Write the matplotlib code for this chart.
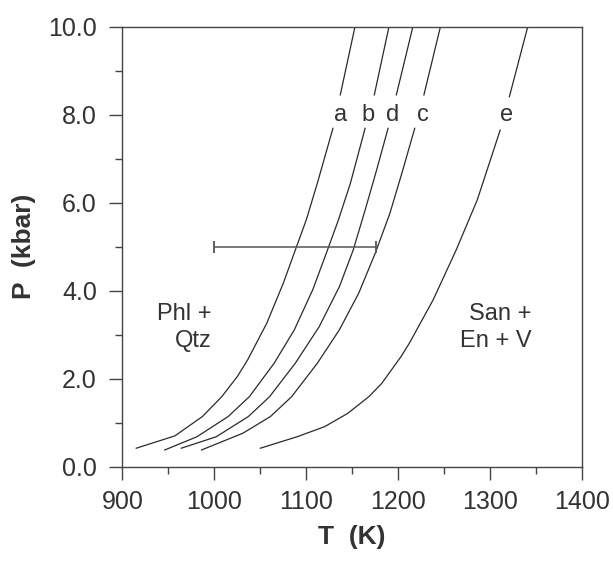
import numpy as np
import matplotlib.pyplot as plt
from matplotlib.ticker import MultipleLocator

plt.rcParams['font.family'] = ['Liberation Sans', 'DejaVu Sans']

# curve data (T in K, P in kbar); nan marks the gap where the label sits
nan = np.nan
a_T = [915, 957, 987, 1008, 1025, 1036, 1057, 1075, 1088, 1100, 1112, 1129, nan, 1137, 1153]
a_P = [0.42, 0.70, 1.14, 1.59, 2.05, 2.42, 3.26, 4.17, 4.92, 5.61, 6.44, 7.69, nan, 8.45, 10.0]

b_T = [946, 981, 1015, 1038, 1065, 1087, 1107, 1123, 1135, 1148, 1164, nan, 1174, 1190]
b_P = [0.38, 0.68, 1.14, 1.59, 2.35, 3.11, 4.02, 4.92, 5.61, 6.44, 7.69, nan, 8.45, 10.0]

d_T = [964, 1002, 1037, 1060, 1088, 1114, 1136, 1151, 1164, 1176.5, 1189, nan, 1198, 1216]
d_P = [0.42, 0.68, 1.14, 1.59, 2.35, 3.18, 4.09, 4.92, 5.83, 6.74, 7.69, nan, 8.45, 10.0]

c_T = [986, 1031, 1061, 1084, 1112, 1136, 1157, 1175, 1191, 1205, 1218, nan, 1228, 1246]
c_P = [0.38, 0.76, 1.14, 1.59, 2.35, 3.11, 3.94, 4.85, 5.76, 6.74, 7.69, nan, 8.45, 10.0]

e_T = [1050, 1090, 1120, 1145, 1168, 1182, 1203, 1212, 1238, 1263, 1286, 1311, nan, 1321, 1341]
e_P = [0.42, 0.68, 0.91, 1.21, 1.59, 1.89, 2.50, 2.80, 3.79, 4.92, 6.06, 7.65, nan, 8.41, 10.0]

curve_names = ['a', 'b', 'd', 'c', 'e']
label_T = [1137, 1167, 1194, 1227, 1318]
label_P = 8.0

# uncertainty bar
err_T = [1000, 1176]
err_P = 5.0

fig = plt.figure(figsize=(6.13, 5.62), dpi=100)
ax = fig.add_axes([0.1998, 0.1696, 0.7496, 0.7829])

line_col = '#2a2a2a'
for T, P in [(a_T, a_P), (b_T, b_P), (d_T, d_P), (c_T, c_P), (e_T, e_P)]:
    ax.plot(T, P, color=line_col, lw=0.9)

for name, t in zip(curve_names, label_T):
    ax.text(t, label_P, name, fontsize=17, ha='center', va='center', color='#333333')

mid = (err_T[0] + err_T[1]) / 2
half = (err_T[1] - err_T[0]) / 2
ax.errorbar([mid], [err_P], xerr=[[half], [half]], fmt='none', ecolor='#555555',
            elinewidth=1.1, capsize=4.3, capthick=1.3)

ax.text(997, 3.16, 'Phl +\nQtz', fontsize=17, ha='right', va='center',
        multialignment='right', linespacing=1.3, color='#333333')
ax.text(1345, 3.16, 'San +\nEn + V', fontsize=17, ha='right', va='center',
        multialignment='right', linespacing=1.3, color='#333333')

ax.set_xlim(900, 1400)
ax.set_ylim(0, 10)
ax.xaxis.set_major_locator(MultipleLocator(100))
ax.xaxis.set_minor_locator(MultipleLocator(50))
ax.yaxis.set_major_locator(MultipleLocator(2))
ax.yaxis.set_minor_locator(MultipleLocator(1))
ax.yaxis.set_major_formatter(plt.FormatStrFormatter('%.1f'))

ax.tick_params(which='major', direction='out', length=9.5, width=1.0,
               labelsize=18, colors='#444444', labelcolor='#333333')
ax.tick_params(axis='x', which='major', pad=7)
ax.tick_params(axis='y', which='major', pad=9)
ax.tick_params(which='minor', direction='out', length=5, width=1.0, colors='#444444')
for s in ax.spines.values():
    s.set_color('#444444')
    s.set_linewidth(1.0)

ax.set_xlabel('T  (K)', fontsize=19, fontweight='bold', color='#333333', labelpad=8)
ax.set_ylabel('P  (kbar)', fontsize=19, fontweight='bold', color='#333333', labelpad=9)

fig.savefig('out.png', dpi=100)
plt.close(fig)
